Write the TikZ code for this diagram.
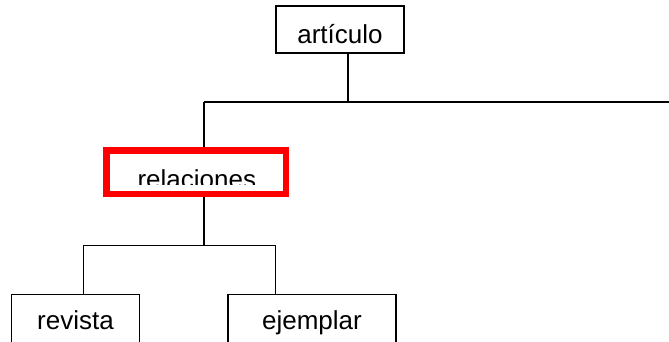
\documentclass[tikz,border=0pt]{standalone}
\usepackage{fontspec}
\setmainfont{Liberation Sans}

\begin{document}
\begin{tikzpicture}[x=1pt,y=-1pt,line width=1.3pt]
	\tikzstyle{every node}+=[inner sep=0pt]
	\tikzstyle{item}=[draw=black,line width=1.3pt,minimum height=47pt,text height=27pt,text depth=0pt,font=\fontsize{26}{30}\selectfont]
	\tikzstyle{leaf}=[item,minimum height=56pt,text height=14pt]
	\tikzstyle{relbox}=[draw=red,line width=6.5pt,minimum width=179.5pt,minimum height=43.5pt]
	\useasboundingbox (0,0) rectangle (669,341);
	\clip (0,0) rectangle (669,341);
	% boxes
	\node [item,minimum width=128pt] (articulo) at (340,29.5) {art\'iculo};
	\begin{scope}
		\clip (110,154) rectangle (284,184);
		\node [anchor=base,font=\fontsize{26}{30}\selectfont] (reltext) at (196.8,188.5) {relaciones};
	\end{scope}
	\node [relbox] (relaciones) at (196.3,172.3) {};
	\node [leaf,minimum width=128pt] (revista) at (75.5,322.3) {revista};
	\node [leaf,minimum width=168pt] (ejemplar) at (312,322.3) {ejemplar};
	% bus points
	\coordinate (artdrop) at (348,102);
	\coordinate (topbus) at (204,102);
	\coordinate (busend) at (669,102);
	\coordinate (midbus) at (204,245.5);
	\coordinate (leftdrop) at (83.3,245.5);
	\coordinate (rightdrop) at (275.3,245.5);
	% connectors
	\draw [black] (articulo.south -| artdrop) -- (artdrop);
	\draw [black] (topbus) -- (busend);
	\draw [black] (topbus) -- (topbus |- relaciones.north);
	\draw [black] (topbus |- relaciones.south) -- (midbus);
	\draw [black] (leftdrop |- revista.north) -- (leftdrop) -- (rightdrop) -- (rightdrop |- ejemplar.north);
\end{tikzpicture}
\end{document}
